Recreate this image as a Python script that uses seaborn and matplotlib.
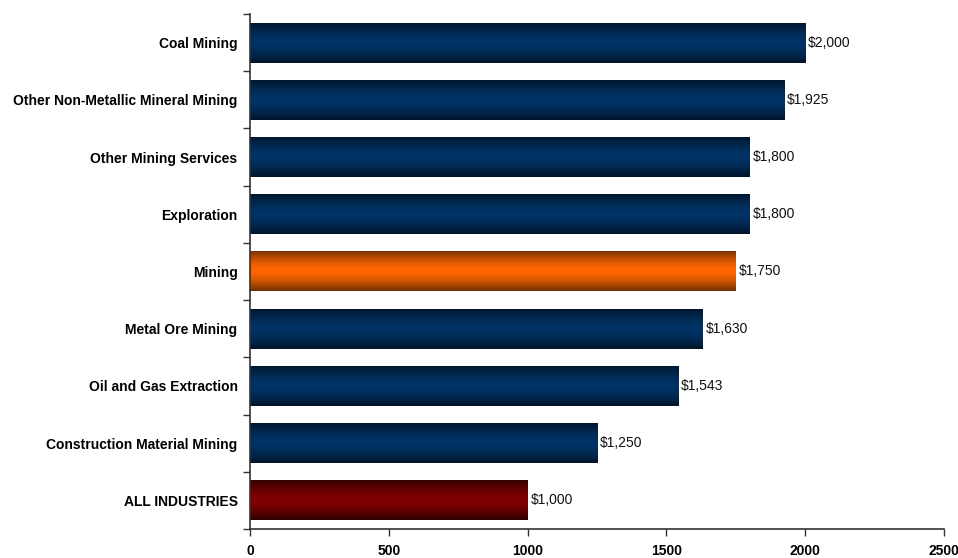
import numpy as np
import pandas as pd
import matplotlib
matplotlib.use("Agg")
import matplotlib.pyplot as plt
import seaborn as sns
from matplotlib.colors import LinearSegmentedColormap

sns.set_style("white")
plt.rcParams["font.family"] = ["Liberation Sans", "DejaVu Sans"]

categories = [
    "Coal Mining",
    "Other Non-Metallic Mineral Mining",
    "Other Mining Services",
    "Exploration",
    "Mining",
    "Metal Ore Mining",
    "Oil and Gas Extraction",
    "Construction Material Mining",
    "ALL INDUSTRIES",
]
values = [2000, 1925, 1800, 1800, 1750, 1630, 1543, 1250, 1000]
x_ticks = [0, 500, 1000, 1500, 2000, 2500]

# (edge, centre) colours for the shaded bars
navy = ("#011428", "#003366")
orange = ("#6e2e00", "#ff6600")
maroon = ("#2e0000", "#800000")
shades = {c: navy for c in categories}
shades["Mining"] = orange
shades["ALL INDUSTRIES"] = maroon

df = pd.DataFrame({"category": categories, "value": values})

fig = plt.figure(figsize=(9.58, 5.58), dpi=100)
ax = fig.add_axes([0.261, 0.052, 0.7245, 0.923])

palette = {c: shades[c][1] for c in categories}
sns.barplot(data=df, x="value", y="category", hue="category", palette=palette,
            order=categories, legend=False, width=0.7, ax=ax, saturation=1)

ax.set_xlim(0, 2500)
ax.set_ylim(len(categories) - 0.5, -0.5)

# vertical shading on each bar: dark at top/bottom edge, bright in the middle
t = np.linspace(0, 1, 256)
profile = 1 - np.abs(2 * t - 1) ** 1.6
for patch, cat in zip(ax.patches, categories):
    x0, y0 = patch.get_x(), patch.get_y()
    w, h = patch.get_width(), patch.get_height()
    cmap = LinearSegmentedColormap.from_list(cat, list(shades[cat]))
    img = ax.imshow(profile.reshape(-1, 1), cmap=cmap, vmin=0, vmax=1,
                    extent=[x0, x0 + w, y0 + h, y0], aspect="auto",
                    interpolation="bilinear", zorder=2)
    img.set_clip_path(patch)
    patch.set_edgecolor("none")

ax.set_xlim(0, 2500)
ax.set_ylim(len(categories) - 0.5, -0.5)

for i, v in enumerate(values):
    ax.text(v + 10, i, f"${v:,}", va="center", ha="left", fontsize=10,
            color="#111111", zorder=3)

ax.set_xticks(x_ticks)
ax.set_xticklabels([str(v) for v in x_ticks], fontsize=10, fontweight="bold",
                   color="black")
ax.set_yticks(range(len(categories)))
ax.set_yticklabels(categories, fontsize=10, fontweight="bold", color="black")
ax.set_yticks(np.arange(-0.5, len(categories), 1), minor=True)
ax.tick_params(axis="y", which="major", left=False, length=0, pad=9)
ax.tick_params(axis="y", which="minor", left=True, length=5, width=1,
               color="#333333", direction="out")
ax.tick_params(axis="x", which="major", bottom=True, length=5, width=1,
               color="#333333", direction="out", pad=6)
ax.set_xlabel("")
ax.set_ylabel("")

sns.despine(ax=ax, top=True, right=True)
for side in ("left", "bottom"):
    ax.spines[side].set_color("#333333")
    ax.spines[side].set_linewidth(1.2)

fig.savefig("out.png", dpi=100)
